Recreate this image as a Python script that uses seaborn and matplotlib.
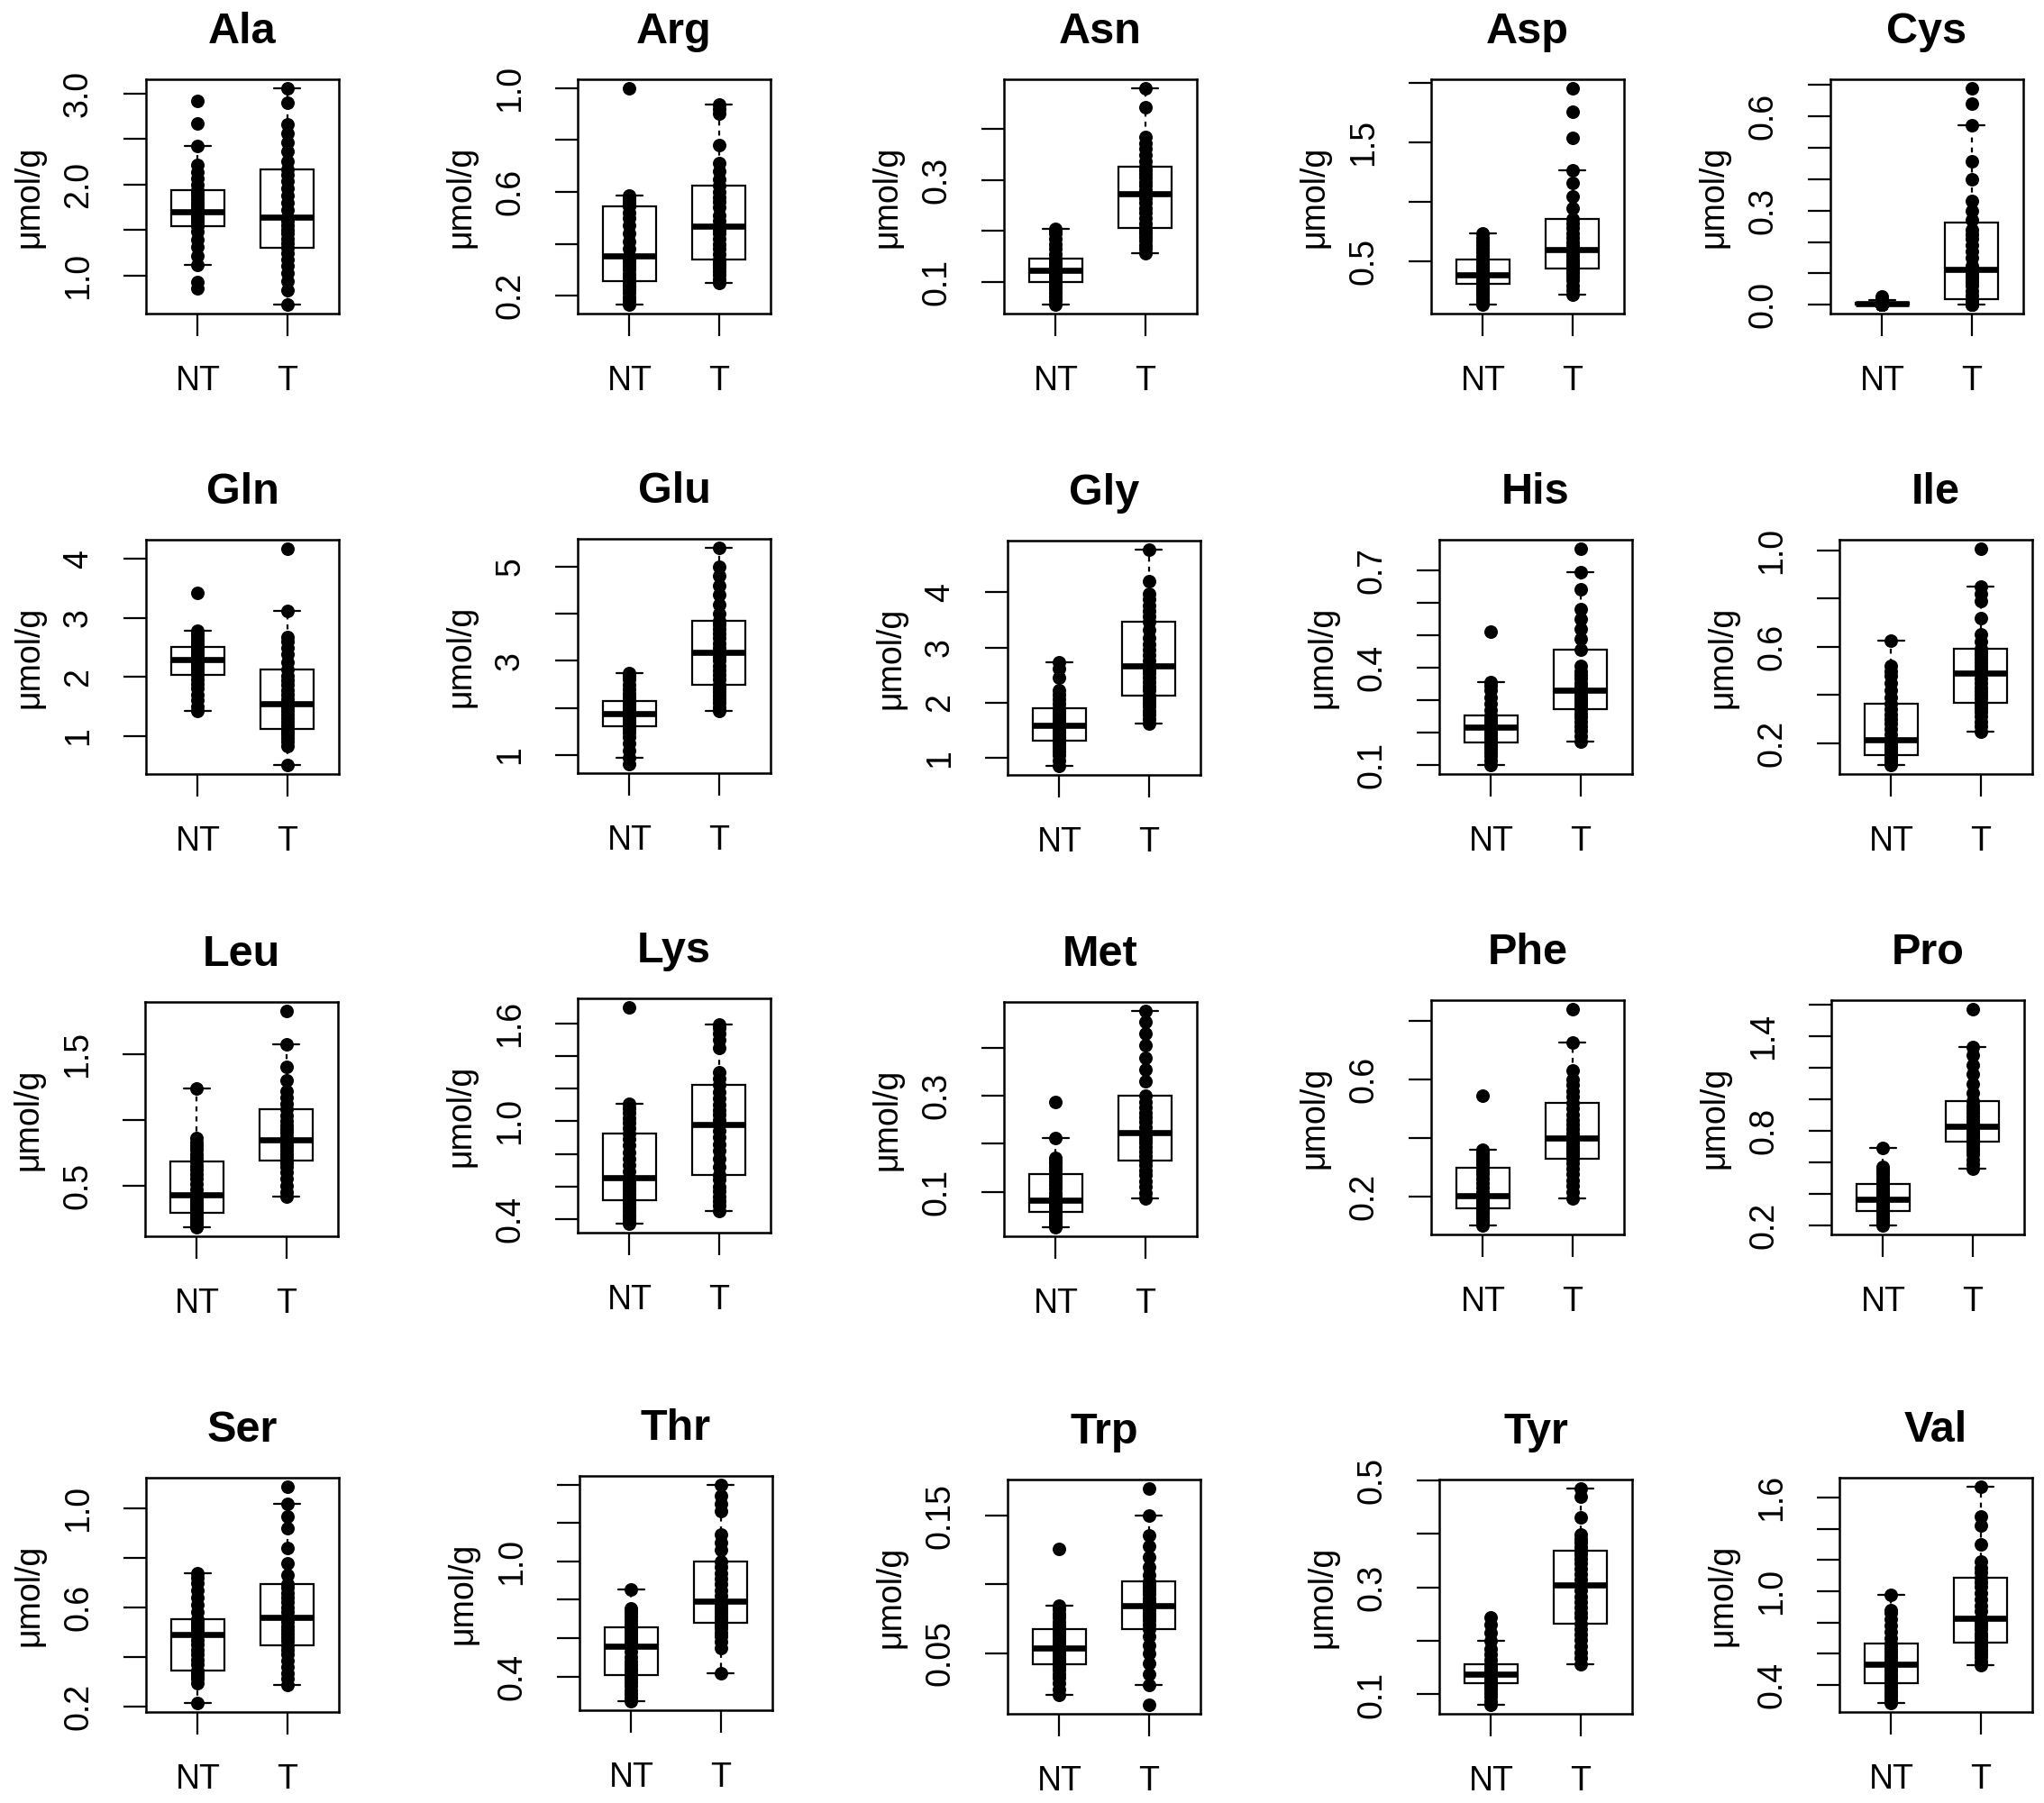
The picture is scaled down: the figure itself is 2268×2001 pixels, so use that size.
import matplotlib
matplotlib.use("Agg")
import matplotlib.pyplot as plt
import pandas as pd
import seaborn as sns

groups = ['NT', 'T']

# values (umol/g)
ala_nt = [0.86, 0.93, 1.12, 1.22, 1.32, 1.40, 1.48, 1.54, 1.58, 1.61, 1.63, 1.65, 1.67, 1.69, 1.70,
          1.73, 1.77, 1.80, 1.84, 1.88, 1.91, 1.94, 2.00, 2.07, 2.14, 2.22, 2.42, 2.67, 2.92]
ala_t = [0.68, 0.84, 0.94, 1.03, 1.11, 1.18, 1.25, 1.31, 1.36, 1.41, 1.46, 1.50, 1.55, 1.60, 1.64,
         1.72, 1.80, 1.88, 1.96, 2.04, 2.11, 2.17, 2.26, 2.36, 2.46, 2.56, 2.66, 2.90, 3.06]
arg_nt = [0.165, 0.18, 0.195, 0.21, 0.225, 0.235, 0.245, 0.255, 0.27, 0.285, 0.30, 0.315, 0.33, 0.34, 0.353,
          0.38, 0.41, 0.44, 0.47, 0.50, 0.52, 0.543, 0.55, 0.56, 0.565, 0.575, 0.58, 0.585, 1.0]
arg_t = [0.25, 0.265, 0.28, 0.295, 0.31, 0.32, 0.33, 0.34, 0.36, 0.38, 0.40, 0.42, 0.44, 0.455, 0.467,
         0.49, 0.51, 0.54, 0.56, 0.58, 0.60, 0.624, 0.65, 0.68, 0.71, 0.78, 0.90, 0.92, 0.935]
asn_nt = [0.056, 0.065, 0.073, 0.08, 0.087, 0.092, 0.097, 0.101, 0.105, 0.109, 0.112, 0.115, 0.118, 0.121, 0.124,
          0.127, 0.130, 0.133, 0.136, 0.139, 0.142, 0.146, 0.155, 0.165, 0.175, 0.185, 0.195, 0.20, 0.205]
asn_t = [0.157, 0.165, 0.173, 0.181, 0.189, 0.195, 0.20, 0.206, 0.215, 0.225, 0.235, 0.245, 0.255, 0.264, 0.273,
         0.28, 0.288, 0.296, 0.304, 0.312, 0.319, 0.326, 0.336, 0.348, 0.36, 0.372, 0.384, 0.442, 0.479]
asp_nt = [0.135, 0.16, 0.185, 0.21, 0.235, 0.26, 0.285, 0.31, 0.325, 0.335, 0.345, 0.355, 0.365, 0.378, 0.39,
          0.41, 0.43, 0.45, 0.47, 0.49, 0.505, 0.52, 0.55, 0.58, 0.61, 0.64, 0.67, 0.70, 0.74]
asp_t = [0.22, 0.26, 0.30, 0.34, 0.37, 0.40, 0.42, 0.44, 0.46, 0.48, 0.50, 0.52, 0.55, 0.575, 0.60,
         0.63, 0.66, 0.70, 0.74, 0.78, 0.82, 0.86, 0.95, 1.05, 1.16, 1.27, 1.54, 1.76, 1.96]
cys_nt = [0.0, 0.0, 0.0, 0.0, 0.0, 0.0, 0.0, 0.0, 0.0, 0.0, 0.001, 0.001, 0.002, 0.002, 0.003,
          0.003, 0.004, 0.004, 0.005, 0.005, 0.006, 0.006, 0.007, 0.008, 0.009, 0.010, 0.012, 0.015, 0.026]
cys_t = [0.0, 0.0, 0.0, 0.002, 0.005, 0.008, 0.010, 0.013, 0.03, 0.045, 0.06, 0.072, 0.083, 0.092, 0.10,
         0.125, 0.15, 0.17, 0.19, 0.21, 0.225, 0.24, 0.27, 0.30, 0.33, 0.40, 0.456, 0.57, 0.64, 0.69]
gln_nt = [1.42, 1.50, 1.60, 1.70, 1.80, 1.88, 1.96, 2.03, 2.08, 2.12, 2.16, 2.20, 2.24, 2.27, 2.30,
          2.33, 2.36, 2.39, 2.42, 2.45, 2.48, 2.515, 2.55, 2.60, 2.65, 2.70, 2.74, 2.78, 3.42]
gln_t = [0.50, 0.82, 0.90, 0.96, 1.02, 1.06, 1.09, 1.12, 1.18, 1.24, 1.30, 1.36, 1.42, 1.48, 1.54,
         1.62, 1.70, 1.78, 1.86, 1.94, 2.02, 2.13, 2.25, 2.38, 2.50, 2.60, 2.68, 3.12, 4.18]
glu_nt = [0.80, 0.94, 1.10, 1.25, 1.38, 1.48, 1.56, 1.62, 1.66, 1.70, 1.74, 1.78, 1.81, 1.84, 1.87,
          1.90, 1.94, 1.98, 2.02, 2.06, 2.10, 2.15, 2.22, 2.30, 2.40, 2.50, 2.60, 2.68, 2.74]
glu_t = [1.94, 2.02, 2.10, 2.18, 2.26, 2.34, 2.42, 2.50, 2.60, 2.70, 2.80, 2.90, 3.00, 3.09, 3.18,
         3.28, 3.38, 3.48, 3.58, 3.68, 3.77, 3.85, 4.0, 4.2, 4.4, 4.6, 4.8, 5.0, 5.41]
gly_nt = [0.85, 0.95, 1.05, 1.12, 1.18, 1.24, 1.28, 1.32, 1.36, 1.40, 1.44, 1.48, 1.52, 1.55, 1.585,
          1.62, 1.66, 1.70, 1.74, 1.78, 1.84, 1.90, 1.98, 2.06, 2.14, 2.22, 2.45, 2.62, 2.73]
gly_t = [1.62, 1.70, 1.78, 1.86, 1.94, 2.00, 2.06, 2.13, 2.22, 2.30, 2.38, 2.46, 2.53, 2.60, 2.66,
         2.76, 2.86, 2.96, 3.06, 3.18, 3.32, 3.46, 3.56, 3.66, 3.76, 3.88, 3.98, 4.20, 4.78]
his_nt = [0.10, 0.115, 0.13, 0.14, 0.15, 0.157, 0.163, 0.169, 0.176, 0.183, 0.19, 0.197, 0.204, 0.211, 0.218,
          0.223, 0.228, 0.233, 0.238, 0.243, 0.248, 0.253, 0.27, 0.29, 0.31, 0.33, 0.345, 0.356, 0.512]
his_t = [0.174, 0.19, 0.205, 0.22, 0.235, 0.248, 0.26, 0.273, 0.28, 0.288, 0.296, 0.304, 0.312, 0.32, 0.33,
         0.342, 0.354, 0.366, 0.378, 0.39, 0.405, 0.456, 0.49, 0.52, 0.55, 0.58, 0.64, 0.693, 0.767]
ile_nt = [0.108, 0.118, 0.126, 0.132, 0.138, 0.144, 0.148, 0.152, 0.16, 0.168, 0.176, 0.184, 0.192, 0.202, 0.213,
          0.235, 0.26, 0.28, 0.30, 0.32, 0.34, 0.364, 0.39, 0.42, 0.45, 0.48, 0.50, 0.52, 0.624]
ile_t = [0.249, 0.27, 0.29, 0.31, 0.33, 0.345, 0.358, 0.369, 0.385, 0.40, 0.415, 0.43, 0.45, 0.47, 0.492,
         0.505, 0.52, 0.535, 0.55, 0.565, 0.578, 0.59, 0.62, 0.65, 0.72, 0.79, 0.82, 0.85, 1.008]
leu_nt = [0.18, 0.19, 0.21, 0.23, 0.25, 0.265, 0.28, 0.293, 0.31, 0.33, 0.35, 0.37, 0.39, 0.41, 0.43,
          0.47, 0.51, 0.55, 0.59, 0.62, 0.65, 0.68, 0.71, 0.74, 0.77, 0.80, 0.83, 0.86, 1.235]
leu_t = [0.415, 0.45, 0.50, 0.55, 0.60, 0.64, 0.67, 0.69, 0.715, 0.74, 0.765, 0.79, 0.81, 0.83, 0.847,
         0.87, 0.90, 0.93, 0.96, 0.99, 1.03, 1.077, 1.12, 1.17, 1.22, 1.30, 1.40, 1.576, 1.83]
lys_nt = [0.37, 0.39, 0.41, 0.43, 0.45, 0.47, 0.495, 0.517, 0.535, 0.555, 0.575, 0.595, 0.615, 0.635, 0.655,
          0.69, 0.73, 0.77, 0.81, 0.85, 0.89, 0.927, 0.96, 0.99, 1.02, 1.05, 1.08, 1.105, 1.70]
lys_t = [0.45, 0.48, 0.51, 0.54, 0.57, 0.60, 0.64, 0.67, 0.72, 0.77, 0.82, 0.86, 0.90, 0.94, 0.978,
         1.01, 1.04, 1.07, 1.10, 1.14, 1.18, 1.224, 1.26, 1.30, 1.45, 1.50, 1.54, 1.57, 1.593]
met_nt = [0.025, 0.03, 0.035, 0.04, 0.045, 0.05, 0.054, 0.0575, 0.061, 0.065, 0.069, 0.073, 0.076, 0.079, 0.0825,
          0.09, 0.098, 0.106, 0.114, 0.122, 0.13, 0.1375, 0.145, 0.152, 0.159, 0.165, 0.17, 0.2125, 0.2875]
met_t = [0.086, 0.098, 0.11, 0.122, 0.134, 0.145, 0.155, 0.1656, 0.175, 0.184, 0.193, 0.202, 0.21, 0.217, 0.224,
         0.235, 0.245, 0.255, 0.265, 0.276, 0.288, 0.301, 0.33, 0.355, 0.38, 0.405, 0.43, 0.455, 0.478]
phe_nt = [0.10, 0.11, 0.12, 0.13, 0.14, 0.148, 0.154, 0.16, 0.166, 0.172, 0.178, 0.184, 0.19, 0.197, 0.203,
          0.215, 0.23, 0.245, 0.26, 0.275, 0.287, 0.299, 0.31, 0.32, 0.33, 0.34, 0.35, 0.358, 0.543]
phe_t = [0.193, 0.215, 0.235, 0.255, 0.275, 0.295, 0.313, 0.33, 0.34, 0.35, 0.36, 0.37, 0.38, 0.39, 0.40,
         0.415, 0.43, 0.445, 0.46, 0.48, 0.50, 0.52, 0.54, 0.56, 0.58, 0.60, 0.63, 0.726, 0.84]
pro_nt = [0.2, 0.215, 0.23, 0.245, 0.258, 0.27, 0.28, 0.291, 0.30, 0.31, 0.32, 0.33, 0.342, 0.355, 0.368,
          0.38, 0.395, 0.41, 0.425, 0.44, 0.455, 0.467, 0.48, 0.50, 0.52, 0.54, 0.555, 0.57, 0.691]
pro_t = [0.562, 0.59, 0.62, 0.65, 0.675, 0.695, 0.715, 0.733, 0.748, 0.762, 0.776, 0.79, 0.803, 0.816, 0.829,
         0.85, 0.872, 0.894, 0.916, 0.94, 0.963, 0.987, 1.04, 1.10, 1.16, 1.22, 1.28, 1.333, 1.573]
ser_nt = [0.212, 0.295, 0.31, 0.32, 0.33, 0.336, 0.341, 0.346, 0.37, 0.39, 0.41, 0.43, 0.45, 0.47, 0.49,
          0.50, 0.51, 0.52, 0.53, 0.54, 0.547, 0.553, 0.58, 0.61, 0.64, 0.67, 0.70, 0.72, 0.74]
ser_t = [0.286, 0.31, 0.335, 0.36, 0.385, 0.41, 0.43, 0.448, 0.465, 0.48, 0.495, 0.51, 0.525, 0.54, 0.56,
         0.58, 0.60, 0.62, 0.64, 0.66, 0.68, 0.695, 0.73, 0.78, 0.84, 0.92, 0.97, 1.021, 1.09]
thr_nt = [0.27, 0.29, 0.31, 0.33, 0.35, 0.37, 0.39, 0.408, 0.425, 0.44, 0.46, 0.48, 0.50, 0.53, 0.559,
          0.575, 0.59, 0.605, 0.62, 0.632, 0.645, 0.657, 0.675, 0.695, 0.715, 0.73, 0.745, 0.755, 0.855]
thr_t = [0.415, 0.55, 0.58, 0.61, 0.63, 0.65, 0.665, 0.68, 0.70, 0.715, 0.73, 0.745, 0.76, 0.777, 0.793,
         0.82, 0.85, 0.88, 0.91, 0.94, 0.97, 1.0, 1.06, 1.10, 1.14, 1.26, 1.30, 1.34, 1.40]
trp_nt = [0.02, 0.024, 0.028, 0.032, 0.035, 0.038, 0.040, 0.0423, 0.044, 0.046, 0.048, 0.05, 0.051, 0.0525, 0.054,
          0.056, 0.058, 0.060, 0.062, 0.064, 0.066, 0.0678, 0.070, 0.073, 0.076, 0.079, 0.082, 0.0847, 0.126]
trp_t = [0.0123, 0.027, 0.035, 0.043, 0.05, 0.056, 0.062, 0.0678, 0.071, 0.074, 0.077, 0.079, 0.081, 0.083, 0.0847,
         0.087, 0.09, 0.093, 0.0955, 0.098, 0.100, 0.1022, 0.107, 0.113, 0.12, 0.128, 0.136, 0.15, 0.17]
tyr_nt = [0.08, 0.088, 0.096, 0.103, 0.109, 0.114, 0.118, 0.121, 0.124, 0.127, 0.129, 0.131, 0.133, 0.135, 0.138,
          0.141, 0.144, 0.146, 0.148, 0.15, 0.153, 0.156, 0.165, 0.175, 0.185, 0.20, 0.215, 0.23, 0.244]
tyr_t = [0.157, 0.168, 0.179, 0.19, 0.201, 0.212, 0.222, 0.2326, 0.243, 0.253, 0.263, 0.273, 0.283, 0.294, 0.305,
         0.315, 0.325, 0.335, 0.345, 0.353, 0.361, 0.368, 0.375, 0.383, 0.39, 0.398, 0.43, 0.47, 0.485]
val_nt = [0.28, 0.30, 0.32, 0.34, 0.36, 0.38, 0.395, 0.41, 0.43, 0.45, 0.47, 0.49, 0.505, 0.52, 0.532,
          0.55, 0.57, 0.59, 0.61, 0.63, 0.65, 0.666, 0.70, 0.74, 0.78, 0.82, 0.86, 0.88, 0.975]
val_t = [0.528, 0.55, 0.575, 0.60, 0.625, 0.645, 0.66, 0.672, 0.69, 0.71, 0.73, 0.755, 0.78, 0.805, 0.829,
         0.87, 0.91, 0.95, 0.99, 1.03, 1.06, 1.089, 1.12, 1.15, 1.19, 1.30, 1.42, 1.48, 1.674]

# y ticks and which ones carry a label (R drops the crowded ones)
ticks = {
    'Ala': ([1.0, 1.5, 2.0, 2.5, 3.0], ['1.0', '', '2.0', '', '3.0']),
    'Arg': ([0.2, 0.4, 0.6, 0.8, 1.0], ['0.2', '', '0.6', '', '1.0']),
    'Asn': ([0.1, 0.2, 0.3, 0.4], ['0.1', '', '0.3', '']),
    'Asp': ([0.5, 1.0, 1.5, 2.0], ['0.5', '', '1.5', '']),
    'Cys': ([0.0, 0.1, 0.2, 0.3, 0.4, 0.5, 0.6, 0.7], ['0.0', '', '', '0.3', '', '', '0.6', '']),
    'Gln': ([1, 2, 3, 4], ['1', '2', '3', '4']),
    'Glu': ([1, 2, 3, 4, 5], ['1', '', '3', '', '5']),
    'Gly': ([1, 2, 3, 4], ['1', '2', '3', '4']),
    'His': ([0.1, 0.2, 0.3, 0.4, 0.5, 0.6, 0.7], ['0.1', '', '', '0.4', '', '', '0.7']),
    'Ile': ([0.2, 0.4, 0.6, 0.8, 1.0], ['0.2', '', '0.6', '', '1.0']),
    'Leu': ([0.5, 1.0, 1.5], ['0.5', '', '1.5']),
    'Lys': ([0.4, 0.6, 0.8, 1.0, 1.2, 1.4, 1.6], ['0.4', '', '', '1.0', '', '', '1.6']),
    'Met': ([0.1, 0.2, 0.3, 0.4], ['0.1', '', '0.3', '']),
    'Phe': ([0.2, 0.4, 0.6, 0.8], ['0.2', '', '0.6', '']),
    'Pro': ([0.2, 0.4, 0.6, 0.8, 1.0, 1.2, 1.4, 1.6], ['0.2', '', '', '0.8', '', '', '1.4', '']),
    'Ser': ([0.2, 0.4, 0.6, 0.8, 1.0], ['0.2', '', '0.6', '', '1.0']),
    'Thr': ([0.4, 0.6, 0.8, 1.0, 1.2, 1.4], ['0.4', '', '', '1.0', '', '']),
    'Trp': ([0.05, 0.10, 0.15], ['0.05', '', '0.15']),
    'Tyr': ([0.1, 0.2, 0.3, 0.4, 0.5], ['0.1', '', '0.3', '', '0.5']),
    'Val': ([0.4, 0.6, 0.8, 1.0, 1.2, 1.4, 1.6], ['0.4', '', '', '1.0', '', '', '1.6']),
}

panels = [
    ('Ala', ala_nt, ala_t, 162, 88), ('Arg', arg_nt, arg_t, 641, 88), ('Asn', asn_nt, asn_t, 1114, 88),
    ('Asp', asp_nt, asp_t, 1588, 88), ('Cys', cys_nt, cys_t, 2031, 88),
    ('Gln', gln_nt, gln_t, 162, 599), ('Glu', glu_nt, glu_t, 641, 598), ('Gly', gly_nt, gly_t, 1118, 600),
    ('His', his_nt, his_t, 1597, 599), ('Ile', ile_nt, ile_t, 2041, 599),
    ('Leu', leu_nt, leu_t, 161, 1112), ('Lys', lys_nt, lys_t, 641, 1108), ('Met', met_nt, met_t, 1114, 1112),
    ('Phe', phe_nt, phe_t, 1588, 1110), ('Pro', pro_nt, pro_t, 2032, 1110),
    ('Ser', ser_nt, ser_t, 162, 1640), ('Thr', thr_nt, thr_t, 643, 1638), ('Trp', trp_nt, trp_t, 1118, 1642),
    ('Tyr', tyr_nt, tyr_t, 1597, 1642), ('Val', val_nt, val_t, 2041, 1640),
]

sns.set_style("white")
plt.rcParams['font.family'] = ['Liberation Sans', 'DejaVu Sans']
plt.rcParams['text.color'] = 'black'
plt.rcParams['axes.labelcolor'] = 'black'
plt.rcParams['xtick.color'] = 'black'
plt.rcParams['ytick.color'] = 'black'

W, H = 2268, 2001
PW, PH = 214, 260
fig = plt.figure(figsize=(W / 100, H / 100), dpi=100)

for name, nt, t, left, top in panels:
    ax = fig.add_axes([left / W, 1 - (top + PH) / H, PW / W, PH / H])
    df = pd.DataFrame({'group': ['NT'] * len(nt) + ['T'] * len(t), 'value': nt + t})

    sns.boxplot(data=df, x='group', y='value', order=groups, width=0.6, whis=1.5,
                showfliers=False, ax=ax,
                boxprops={'facecolor': 'white', 'edgecolor': 'black', 'linewidth': 1.6},
                medianprops={'color': 'black', 'linewidth': 4.8},
                whiskerprops={'color': 'black', 'linewidth': 1.6, 'linestyle': (0, (2.5, 2.5))},
                capprops={'color': 'black', 'linewidth': 1.6})
    sns.stripplot(data=df, x='group', y='value', order=groups, jitter=False,
                  color='black', size=10.8, linewidth=0, zorder=3, ax=ax)

    # R style axis range: data range plus 4 %
    lo, hi = min(nt + t), max(nt + t)
    pad = 0.04 * (hi - lo)
    ax.set_ylim(lo - pad, hi + pad)
    ax.set_xlim(-0.58, 1.58)

    yt, yl = ticks[name]
    ax.set_yticks(yt)
    ax.set_yticklabels(yl)
    ax.tick_params(axis='both', direction='out', length=18, width=1.6, color='black',
                   labelcolor='black', labelsize=27, pad=23, left=True, bottom=True)
    for lab in ax.get_yticklabels():
        lab.set_rotation(90)
        lab.set_va('center')

    for s in ax.spines.values():
        s.set_color('black')
        s.set_linewidth(1.8)

    ax.set_xlabel('')
    ax.set_ylabel('μmol/g', fontsize=27, color='black')
    ax.yaxis.set_label_coords(-0.523, 0.5)
    ax.text(0.5, 1 + 40 / PH, name, transform=ax.transAxes, ha='center', va='baseline',
            fontsize=35, fontweight='bold', color='black')

fig.savefig('out.png', dpi=100)
